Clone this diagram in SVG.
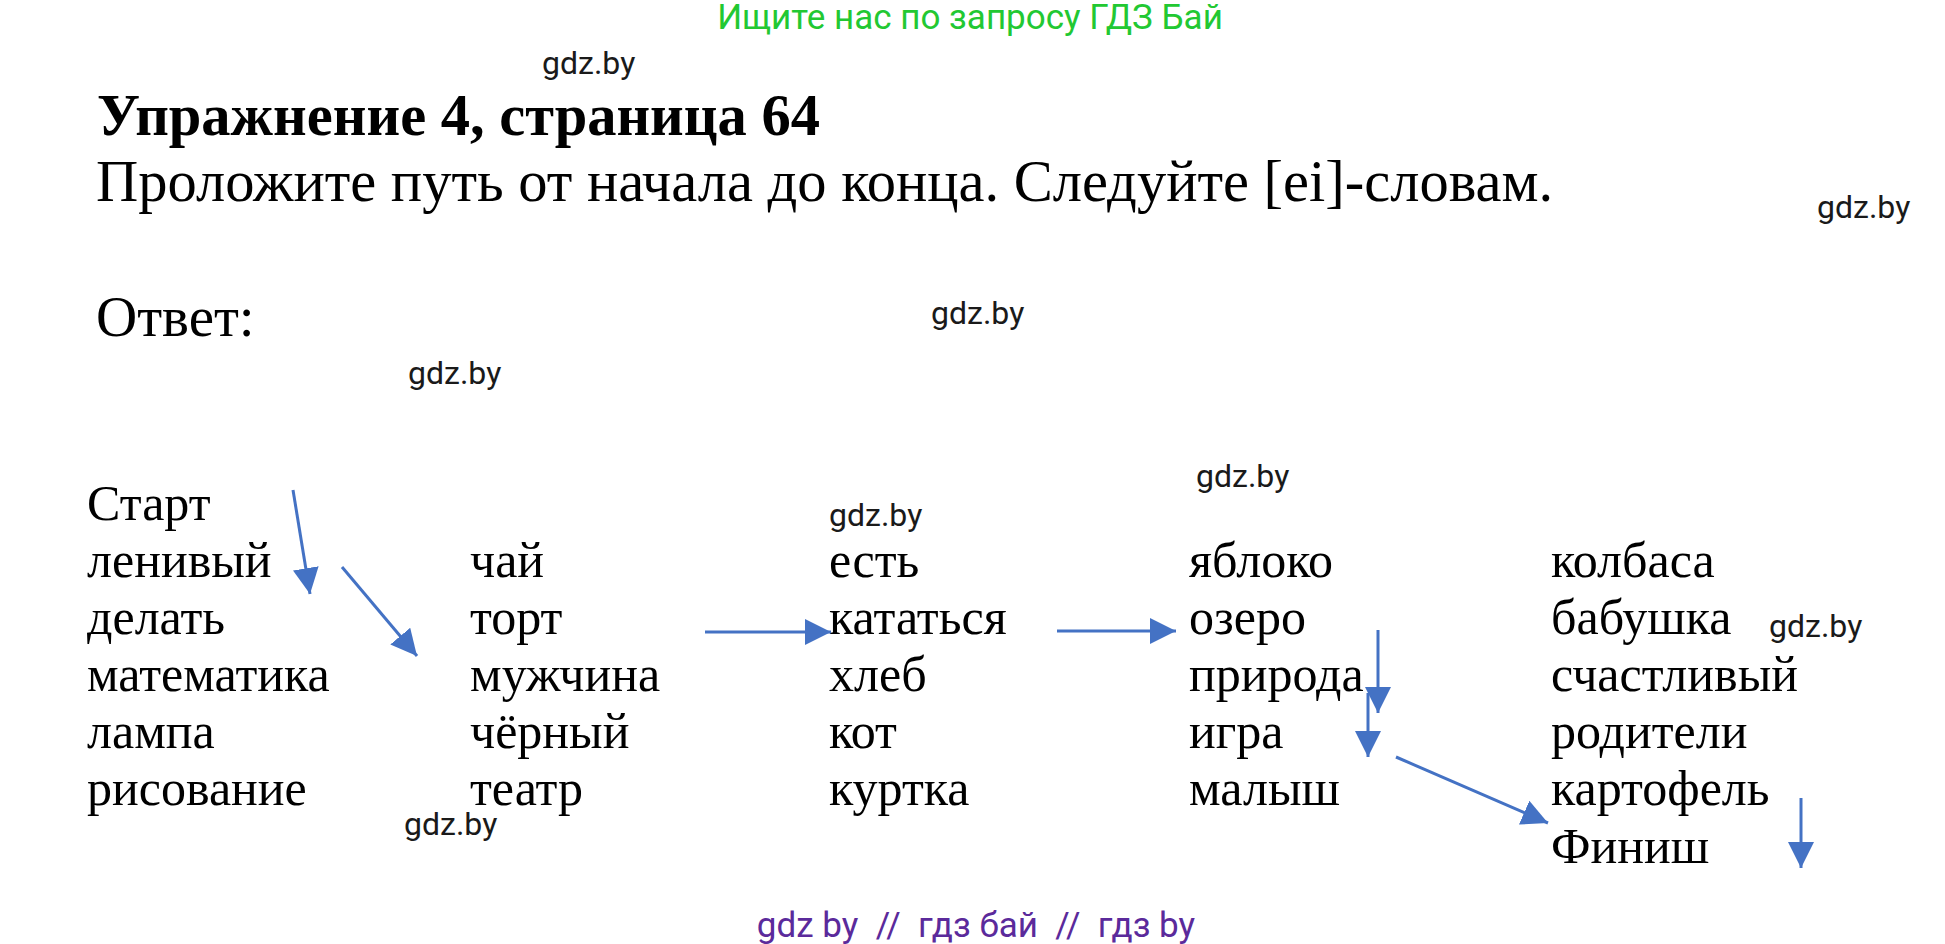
<svg xmlns="http://www.w3.org/2000/svg" width="1945" height="944" viewBox="0 0 1945 944">
<style>
.serif{font-family:"Liberation Serif","Times New Roman",serif;fill:#000}
.w{font-size:50px}
.wm{font-family:Roboto,"Liberation Sans",Arial,sans-serif;font-size:32px;fill:#1a1a1a}
.conn line{stroke:#4472C4;stroke-width:3;marker-end:url(#ah)}
</style>
<defs>
<marker id="ah" markerUnits="userSpaceOnUse" markerWidth="26" markerHeight="26" viewBox="0 0 26 26" refX="26" refY="13" orient="auto">
<path d="M0,0 L26,13 L0,26 Z" fill="#4472C4"/>
</marker>
</defs>
<rect width="1945" height="944" fill="#fff"/>
<text x="970" y="29" text-anchor="middle" style="font-family:Roboto,'Liberation Sans',Arial,sans-serif;font-size:35px;fill:#22c832">Ищите нас по запросу ГДЗ Бай</text>
<text class="wm" x="542" y="74">gdz.by</text>
<text class="serif" x="97" y="135" style="font-size:58.5px;font-weight:bold">Упражнение 4, страница 64</text>
<text class="serif" x="96" y="201" style="font-size:58.5px">Проложите путь от начала до конца. Следуйте [ei]-словам.</text>
<text class="wm" x="1817" y="218">gdz.by</text>
<text class="serif" x="96" y="336" style="font-size:57px">Ответ:</text>
<text class="wm" x="931" y="324">gdz.by</text>
<text class="wm" x="408" y="384">gdz.by</text>
<text class="wm" x="1196" y="487">gdz.by</text>
<text class="wm" x="829" y="526">gdz.by</text>
<text class="wm" x="1769" y="637">gdz.by</text>
<text class="wm" x="404" y="835">gdz.by</text>

<g id="col1" class="serif w">
<text x="87" y="520">Старт</text>
<text x="87" y="577">ленивый</text>
<text x="87" y="634">делать</text>
<text x="87" y="691">математика</text>
<text x="87" y="748">лампа</text>
<text x="87" y="805">рисование</text>
</g>
<g id="col2" class="serif w">
<text x="470" y="577">чай</text>
<text x="470" y="634">торт</text>
<text x="470" y="691">мужчина</text>
<text x="470" y="748">чёрный</text>
<text x="470" y="805">театр</text>
</g>
<g id="col3" class="serif w">
<text x="829" y="577">есть</text>
<text x="829" y="634">кататься</text>
<text x="829" y="691">хлеб</text>
<text x="829" y="748">кот</text>
<text x="829" y="805">куртка</text>
</g>
<g id="col4" class="serif w">
<text x="1189" y="577">яблоко</text>
<text x="1189" y="634">озеро</text>
<text x="1189" y="691">природа</text>
<text x="1189" y="748">игра</text>
<text x="1189" y="805">малыш</text>
</g>
<g id="col5" class="serif w">
<text x="1551" y="577">колбаса</text>
<text x="1551" y="634">бабушка</text>
<text x="1551" y="691">счастливый</text>
<text x="1551" y="748">родители</text>
<text x="1551" y="805">картофель</text>
<text x="1551" y="863">Финиш</text>
</g>

<g id="connectors" class="conn">
<line x1="293" y1="490" x2="310" y2="594"/>
<line x1="342" y1="567" x2="417" y2="656"/>
<line x1="705" y1="632" x2="831" y2="632"/>
<line x1="1057" y1="631" x2="1176" y2="631"/>
<line x1="1378" y1="630" x2="1378" y2="713"/>
<line x1="1368" y1="693" x2="1368" y2="757"/>
<line x1="1396" y1="757" x2="1548" y2="823"/>
<line x1="1801" y1="798" x2="1801" y2="868"/>
</g>

<text x="976" y="937" text-anchor="middle" style="font-family:Roboto,'Liberation Sans',Arial,sans-serif;font-size:35px;fill:#5b2a9b;white-space:pre">gdz by  //  гдз бай  //  гдз by</text>
</svg>
